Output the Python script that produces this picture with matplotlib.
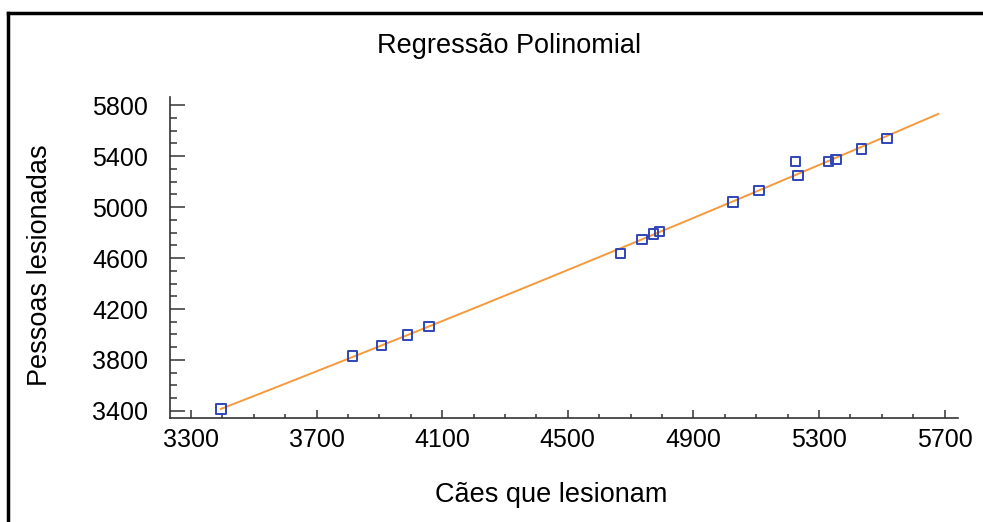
import matplotlib

matplotlib.use("Agg")
import matplotlib.pyplot as plt
import numpy as np
from matplotlib.lines import Line2D
from matplotlib.ticker import MultipleLocator

plt.rcParams["font.family"] = ["Liberation Sans", "DejaVu Sans"]

# data
caes = [3395, 3815, 3907, 3989, 4058, 4668, 4736, 4773, 4793, 5026, 5109,
        5226, 5234, 5330, 5355, 5436, 5517]
pessoas = [3416, 3831, 3915, 3996, 4061, 4634, 4744, 4788, 4809, 5039, 5128,
           5358, 5246, 5355, 5371, 5455, 5539]
fit_x_range = [3395, 5680]

x = np.asarray(caes, dtype=float)
y = np.asarray(pessoas, dtype=float)
coef = np.polyfit(x, y, 2)
xs = np.linspace(fit_x_range[0], fit_x_range[1], 200)
ys = np.polyval(coef, xs)

fig = plt.figure(figsize=(9.83, 5.22), dpi=100)
ax = fig.add_axes([170 / 983, 104 / 522, 788 / 983, 321 / 522])

ax.plot(xs, ys, color="#f59a3c", linewidth=1.4, zorder=2)
ax.scatter(x, y, marker="s", s=46, facecolors="none", edgecolors="#2f45b8",
           linewidths=1.4, zorder=3)

ax.set_xlim(3233, 5743)
ax.set_ylim(3345, 5863)
ax.xaxis.set_major_locator(MultipleLocator(400))
ax.xaxis.set_minor_locator(MultipleLocator(100))
ax.yaxis.set_major_locator(MultipleLocator(400))
ax.yaxis.set_minor_locator(MultipleLocator(100))
ax.set_xticks(np.arange(3300, 5701, 400))
ax.set_yticks(np.arange(3400, 5801, 400))

for side in ("top", "right"):
    ax.spines[side].set_visible(False)
for side in ("left", "bottom"):
    ax.spines[side].set_color("#333333")
    ax.spines[side].set_linewidth(1.2)

ax.tick_params(axis="y", which="major", direction="in", length=11, width=1.1,
               color="#333333", labelsize=18, pad=16)
ax.tick_params(axis="y", which="minor", direction="in", length=5, width=1.1,
               color="#333333")
ax.tick_params(axis="x", which="major", direction="in", length=6, width=1.1,
               color="#333333", labelsize=18, pad=7)
ax.tick_params(axis="x", which="minor", direction="in", length=3, width=1.1,
               color="#333333")

fig.text(551 / 983, 1 - 495 / 522, "Cães que lesionam", fontsize=19.5,
         ha="center", va="center")
fig.text(40 / 983, 1 - 265 / 522, "Pessoas lesionadas", fontsize=19.5,
         ha="center", va="center", rotation=90)
fig.text(509 / 983, 1 - 46 / 522, "Regressão Polinomial", fontsize=19.5,
         ha="center", va="center")

# outer frame (left and top edges)
fig.add_artist(Line2D([8 / 983, 8 / 983], [0, 1 - 13 / 522], color="black",
                      linewidth=2.5, transform=fig.transFigure))
fig.add_artist(Line2D([8 / 983, 1], [1 - 13 / 522, 1 - 13 / 522], color="black",
                      linewidth=2.5, transform=fig.transFigure))

fig.savefig("out.png", dpi=100)
plt.close(fig)
